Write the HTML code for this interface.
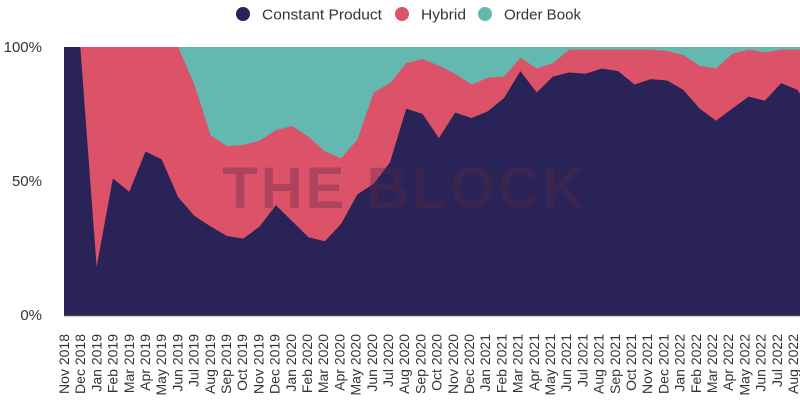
<!DOCTYPE html>
<html><head><meta charset="utf-8"><style>
body{margin:0;background:#fff;width:800px;height:403px;overflow:hidden;font-family:"Liberation Sans",sans-serif}
</style></head><body>
<svg id="s" width="800" height="403" xmlns="http://www.w3.org/2000/svg" font-family="Liberation Sans, sans-serif"></svg>
<script>
var cp=[100,100,18,51,46,61,58,44,37,33,29.5,28.5,33,41,35,29,27.5,34,45,49,57,77,75,66,75.5,73.5,76,81,91,83,89,90.5,90,92,91,86,88,87.5,84,77,72.5,77,81.5,80,86.5,84];
var hy=[100,100,100,100,100,100,100,100,86,67,63,63.5,65,69,70.5,66.5,61,58.5,65.5,83,86.5,94,95.5,93,90,86,88.5,89,96,92,94,99,99,99,99,99,99,98.5,97,93,92,97.5,99,98,99,99];
var m=["Jan","Feb","Mar","Apr","May","Jun","Jul","Aug","Sep","Oct","Nov","Dec"];
var X=function(i){return 64+i*16.3},Y=function(v){return 315-v*2.68};
var n=cp.length,h='';
function poly(a,c){var p=X(0)+','+Y(0)+' ';for(var i=0;i<n;i++)p+=X(i)+','+Y(a[i])+' ';p+='800,'+Y(a[n-1]-(a===cp?1.5:0))+' 800,'+Y(0);return '<polygon points="'+p+'" fill="'+c+'"/>';}
h+='<rect x="64" y="47" width="736" height="268" fill="#63b8b0"/>';
h+=poly(hy,'#dc5269');h+=poly(cp,'#2a2357');
h+='<text x="405" y="208" font-size="58" font-weight="bold" fill="#5a2a45" fill-opacity="0.35" text-anchor="middle" letter-spacing="3">THE BLOCK</text>';
h+='<line x1="64" y1="315.5" x2="800" y2="315.5" stroke="#444" stroke-width="1.5"/>';
[[100,'100%'],[50,'50%'],[0,'0%']].forEach(function(t){h+='<text x="42" y="'+(Y(t[0])+5)+'" font-size="15" fill="#333" text-anchor="end">'+t[1]+'</text>'});
for(var i=0;i<n;i++){var mi=(10+i)%12,yr=2018+Math.floor((10+i)/12);var x=64+i*16.2+5;h+='<text transform="translate('+x+',334) rotate(-90)" font-size="14" fill="#333" text-anchor="end">'+m[mi]+' '+yr+'</text>';}
[[243,'#2a2357','Constant Product',120],[402,'#dc5269','Hybrid',45],[485,'#63b8b0','Order Book',77]].forEach(function(l){h+='<circle cx="'+l[0]+'" cy="14" r="7" fill="'+l[1]+'"/><text x="'+(l[0]+19)+'" y="19.5" font-size="15" fill="#333" textLength="'+l[3]+'" lengthAdjust="spacingAndGlyphs">'+l[2]+'</text>'});
document.getElementById('s').innerHTML=h;
</script>
</body></html>
